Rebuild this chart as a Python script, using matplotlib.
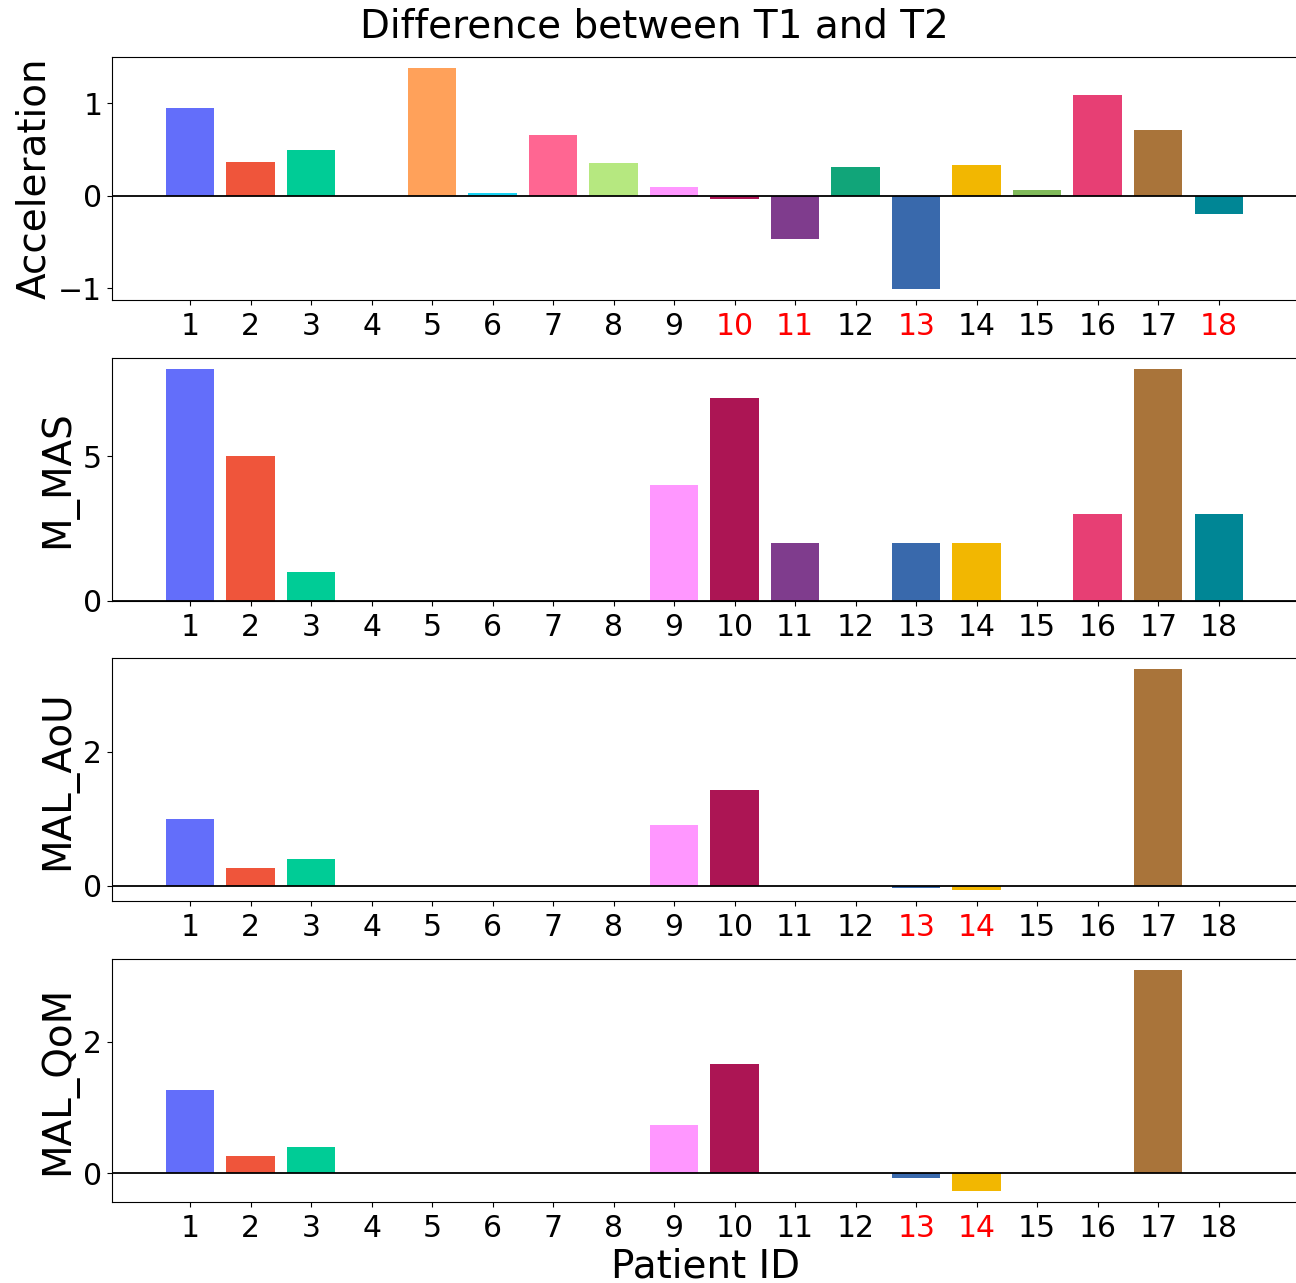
import matplotlib
matplotlib.use('Agg')

import matplotlib.pyplot as plt
import numpy as np

# patient ids and one color per patient
patients = list(range(1, 19))
colors = ['#636EFA', '#EF553B', '#00CC96', '#AB63FA', '#FFA15A', '#19D3F3',
          '#FF6692', '#B6E880', '#FF97FF', '#AC1554', '#7F3C8D', '#11A579',
          '#3969AC', '#F2B701', '#80BA5A', '#E73F74', '#A9743A', '#008695']

# differences T1 - T2 per measure
acceleration = [0.95, 0.37, 0.49, 0.0, 1.38, 0.03, 0.66, 0.35, 0.10,
                -0.03, -0.47, 0.31, -1.01, 0.33, 0.06, 1.09, 0.71, -0.20]
m_mas = [8, 5, 1, 0, 0, 0, 0, 0, 4, 7, 2, 0, 2, 2, 0, 3, 8, 3]
mal_aou = [1.0, 0.26, 0.40, 0, 0, 0, 0, 0, 0.90, 1.43, 0, 0,
           -0.04, -0.07, 0, 0, 3.23, 0]
mal_qom = [1.27, 0.26, 0.40, 0, 0, 0, 0, 0, 0.73, 1.67, 0, 0,
           -0.07, -0.27, 0, 0, 3.10, 0]

measures = ['Acceleration', 'M_MAS', 'MAL_AoU', 'MAL_QoM']
values = [acceleration, m_mas, mal_aou, mal_qom]
yticks = [[-1, 0, 1], [0, 5], [0, 2], [0, 2]]

fig, axes = plt.subplots(4, 1, figsize=(12.96, 12.83), dpi=100)
fig.subplots_adjust(left=0.0864, right=1.002, top=0.9556, bottom=0.0631, hspace=0.235)

for ax, name, vals, yt in zip(axes, measures, values, yticks):
    ax.bar(patients, vals, width=0.8, color=colors)
    ax.axhline(0, color='black', lw=1.3)
    ax.set_xticks(patients)
    ax.set_xticklabels([str(p) for p in patients], fontsize=21.5)
    for lab, v in zip(ax.get_xticklabels(), vals):
        if v < 0:
            lab.set_color('red')
    ax.tick_params(axis='x', pad=5)
    ax.set_yticks(yt)
    ax.tick_params(axis='y', labelsize=21.5)
    ax.set_ylabel(name, fontsize=28)
    ax.set_xlim(-0.29, 19.32)

axes[-1].set_xlabel('Patient ID', fontsize=28, labelpad=3)
fig.suptitle('Difference between T1 and T2', fontsize=28, x=0.505, y=0.994)

plt.savefig('out.png', dpi=100)
